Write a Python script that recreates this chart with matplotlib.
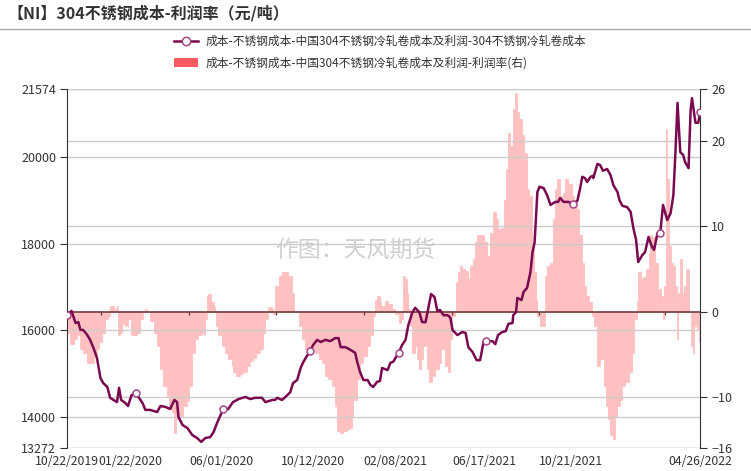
import numpy as np
import pandas as pd
import matplotlib
matplotlib.use("Agg")
import matplotlib.pyplot as plt
import matplotlib.dates as mdates
from matplotlib.lines import Line2D
from matplotlib.patches import Patch

plt.rcParams["font.family"] = ["Noto Sans CJK SC", "DejaVu Sans"]

# start of the series, all x values below are days after this date
start_date = "2019-10-22"

# cost line (left axis, yuan/ton)
cost_day = [0, 6, 12, 16, 19, 23, 29, 33, 38, 43, 48, 52, 58, 62, 67, 72, 75, 78, 84, 88,
            93, 99, 103, 109, 113, 120, 130, 135, 142, 149, 155, 159, 161, 167, 174, 181, 188, 194, 200, 207,
            212, 217, 222, 226, 233, 240, 248, 258, 265, 272, 282, 287, 297, 301, 304, 311, 316, 323, 327, 333,
            338, 342, 348, 352, 356, 362, 367, 374, 381, 388, 393, 396, 403, 410, 417, 420, 424, 429, 435, 439,
            443, 449, 453, 456, 464, 468, 472, 480, 485, 490, 494, 500, 504, 510, 514, 519, 523, 527, 532, 536,
            540, 545, 551, 555, 558, 565, 572, 577, 581, 587, 593, 598, 603, 606, 616, 620, 624, 630, 635, 639,
            645, 646, 650, 652, 658, 661, 666, 671, 674, 677, 679, 681, 684, 690, 695, 700, 707, 711, 714, 719,
            726, 733, 739, 743, 746, 750, 753, 758, 761, 762, 768, 772, 776, 782, 787, 791, 797, 800, 804, 811,
            816, 820, 824, 827, 833, 837, 842, 847, 850, 855, 859, 863, 869, 874, 878, 881, 884, 888, 892, 895,
            900, 903, 905, 910, 914, 917]
cost_val = [16350, 16450, 16170, 16190, 16010, 16010, 15890, 15780, 15590, 15360, 14900, 14780, 14690, 14440, 14390, 14340, 14670, 14390, 14320, 14250,
            14500, 14550, 14460, 14320, 14160, 14160, 14110, 14250, 14230, 14180, 14390, 14340, 14000, 13810, 13740, 13580, 13510, 13420, 13510, 13530,
            13650, 13860, 14040, 14180, 14180, 14340, 14410, 14460, 14410, 14440, 14440, 14340, 14390, 14390, 14440, 14390, 14460, 14570, 14780, 14850,
            15130, 15270, 15430, 15520, 15660, 15780, 15730, 15780, 15750, 15820, 15820, 15610, 15610, 15550, 15480, 15270, 15040, 14850, 14850, 14740,
            14690, 14810, 14830, 15130, 15080, 15250, 15270, 15480, 15660, 15780, 16120, 16420, 16520, 16420, 16190, 16190, 16520, 16840, 16770, 16450,
            16470, 16350, 16350, 16290, 16010, 15890, 15960, 15940, 15610, 15500, 15310, 15310, 15730, 15750, 15750, 15680, 15890, 15960, 15980, 16150,
            16170, 16350, 16420, 16750, 16700, 16890, 16980, 17350, 17810, 18040, 18600, 19200, 19320, 19290, 19130, 18900, 18970, 18970, 19060, 18970,
            18970, 18920, 19000, 19290, 19550, 19520, 19430, 19550, 19570, 19520, 19850, 19820, 19690, 19730, 19590, 19360, 19200, 19010, 18880, 18850,
            18740, 18370, 18090, 17580, 17740, 17810, 18160, 17930, 17860, 18250, 18250, 18900, 18550, 18710, 19130, 20120, 21260, 20120, 20060, 19890,
            19750, 21100, 21370, 20800, 20800, 21050]

# profit rate bars (right axis, %)
rate_day = [0, 4, 9, 14, 18, 23, 28, 33, 38, 43, 46, 50, 55, 59, 62, 67, 72, 74, 76, 79,
            84, 88, 92, 96, 101, 105, 110, 113, 116, 120, 125, 130, 134, 139, 144, 148, 151, 155, 158, 163,
            168, 173, 176, 180, 185, 190, 195, 198, 199, 202, 204, 208, 212, 214, 216, 219, 224, 228, 233, 238,
            240, 245, 250, 255, 260, 265, 269, 274, 279, 284, 286, 291, 296, 298, 301, 306, 311, 315, 320, 325,
            328, 332, 335, 340, 344, 349, 354, 359, 364, 369, 373, 378, 383, 388, 390, 395, 400, 405, 410, 413,
            414, 419, 424, 429, 434, 439, 443, 446, 448, 453, 455, 460, 465, 470, 475, 480, 484, 487, 489, 492,
            494, 496, 499, 503, 506, 509, 512, 516, 521, 524, 528, 533, 538, 542, 547, 551, 554, 558, 561, 563,
            566, 569, 572, 576, 580, 583, 587, 590, 593, 598, 603, 608, 612, 617, 621, 624, 628, 632, 636, 639,
            642, 646, 649, 651, 655, 658, 662, 666, 669, 673, 676, 679, 681, 685, 690, 692, 695, 699, 703, 707,
            710, 714, 718, 721, 725, 727, 731, 734, 738, 742, 745, 749, 752, 756, 760, 763, 767, 772, 777, 780,
            783, 786, 790, 793, 797, 801, 804, 808, 813, 818, 821, 825, 827, 831, 834, 838, 842, 844, 847, 849,
            852, 856, 860, 863, 865, 867, 869, 872, 875, 878, 880, 883, 885, 888, 891, 894, 897, 901, 904, 906,
            908, 912, 915, 917]
rate_val = [-2.5, -3.8, -3.2, -2.7, -4.4, -4.8, -6.0, -6.0, -5.2, -4.4, -3.6, -2.5, -0.9, -0.5, 0.7, 0.3, 0.7, -2.7, -2.5, -1.5,
            -1.7, -0.9, -2.7, -2.8, -2.5, -0.9, -0.1, 0.3, -0.1, -1.1, -2.5, -4.0, -6.7, -8.7, -9.9, -11.4, -11.8, -14.2, -12.6, -12.2,
            -11.0, -10.5, -8.7, -4.8, -3.2, -2.7, -2.5, -2.7, -0.9, 1.8, 2.0, 1.1, 0.5, -0.1, -1.7, -2.8, -4.0, -4.8, -5.6, -6.4,
            -7.1, -7.5, -7.3, -7.1, -6.4, -5.8, -5.4, -4.8, -4.4, -2.5, -0.9, 0.5, 0.3, -0.3, 3.0, 4.2, 4.6, 4.6, 4.2, 2.2,
            0.1, -0.1, -1.7, -3.2, -4.4, -4.8, -4.4, -4.8, -5.6, -6.0, -7.5, -7.9, -8.7, -11.0, -14.0, -14.2, -14.0, -13.8, -13.6, -12.2,
            -10.3, -7.9, -6.0, -5.2, -4.0, -2.7, -0.5, 1.4, 1.8, 1.1, 0.7, 1.2, 0.9, 0.3, -0.3, -1.3, -0.9, 4.2, 3.8, 2.2,
            0.3, -1.7, -4.8, -4.0, -5.6, -6.7, -5.6, -4.0, -6.7, -8.3, -7.5, -6.7, -6.0, -4.4, -6.4, -7.1, -3.2, -0.5, -0.1, 3.4,
            4.6, 5.3, 5.0, 4.8, 3.8, 5.3, 6.1, 8.1, 9.0, 8.9, 8.1, 6.5, 9.2, 11.6, 10.8, 9.6, 9.8, 13.1, 16.7, 20.9,
            19.4, 23.7, 25.6, 23.3, 22.5, 20.6, 18.6, 14.3, 13.5, 8.1, 4.6, 1.4, -0.5, -1.7, -1.7, 4.2, 5.3, 5.7, 10.8, 14.3,
            15.5, 13.5, 13.9, 15.5, 14.3, 14.9, 13.5, 13.1, 12.0, 8.9, 5.7, 3.0, 1.8, 1.1, -0.5, -1.7, -6.4, -5.6, -8.7, -11.0,
            -12.6, -14.5, -14.9, -12.2, -11.0, -10.3, -8.7, -8.3, -7.1, -4.8, -0.9, 1.1, 4.6, 3.8, 4.0, 5.0, 6.9, 8.9, 7.3, 8.7,
            5.7, 2.6, 1.8, -0.9, 3.0, 21.3, 15.5, 7.7, 5.7, 5.3, 3.0, -3.2, 2.2, 6.1, 2.2, 3.0, 5.0, -0.1, -4.0, -4.8,
            -1.7, -2.1, -3.6, -4.0]

# axis labels and ticks
x_tick_labels = ["10/22/2019", "01/22/2020", "06/01/2020", "10/12/2020",
                 "02/08/2021", "06/17/2021", "10/21/2021", "04/26/2022"]
left_ticks = [13272, 14000, 16000, 18000, 20000, 21574]
right_ticks = [-16, -10, 0, 10, 20, 26]
marker_days = [0, 99, 226, 352, 480, 606, 733, 859, 917]
zero_tick_days = [49, 176, 302, 430, 557, 683, 866]

title = "【NI】304不锈钢成本-利润率（元/吨）"
line_label = "成本-不锈钢成本-中国304不锈钢冷轧卷成本及利润-304不锈钢冷轧卷成本"
bar_label = "成本-不锈钢成本-中国304不锈钢冷轧卷成本及利润-利润率(右)"

line_color = "#7a0a50"
marker_edge = "#a0468a"
bar_color = "#ffc0c1"
legend_bar_color = "#ff5a5f"
text_color = "#333333"
grid_color = "#cccccc"
zero_color = "#703c3c"

t0 = pd.Timestamp(start_date)
cost_x = mdates.date2num(t0 + pd.to_timedelta(cost_day, unit="D"))
rate_x = mdates.date2num(t0 + pd.to_timedelta(rate_day, unit="D"))
rate_w = np.append(np.diff(rate_day), 2)
tick_x = mdates.date2num(pd.to_datetime(x_tick_labels, format="%m/%d/%Y"))
zero_tick_x = mdates.date2num(t0 + pd.to_timedelta(zero_tick_days, unit="D"))
mark_idx = list(np.searchsorted(cost_day, marker_days))

fig = plt.figure(figsize=(7.51, 4.71), dpi=100)
ax = fig.add_axes([67.3 / 751, 1 - 448.3 / 471, 633 / 751, 359 / 471])
ax2 = ax.twinx()
ax.set_zorder(ax2.get_zorder() + 1)
ax.patch.set_visible(False)

# -----------------------------
# profit rate bars
# -----------------------------
ax2.bar(rate_x, rate_val, width=rate_w, align="edge", color=bar_color,
        edgecolor=bar_color, linewidth=0.6, zorder=2)
for v in right_ticks:
    if v != 0:
        ax2.axhline(v, color=grid_color, lw=1, zorder=3)
ax2.axhline(0, color=zero_color, lw=1.2, zorder=4)
ax2.vlines(zero_tick_x, -0.45, 0, color=zero_color, lw=1, zorder=4)
ax2.set_ylim(-16, 26)
ax2.set_yticks(right_ticks)

# -----------------------------
# cost line
# -----------------------------
for v in left_ticks:
    ax.axhline(v, color=grid_color, lw=1, zorder=1)
ax.plot(cost_x, cost_val, color=line_color, lw=1.8, marker="o", markevery=mark_idx,
        mfc="white", mec=marker_edge, ms=5, mew=1.1, zorder=4)
ax.set_ylim(13272, 21574)
ax.set_yticks(left_ticks)

ax.set_xlim(cost_x[0], cost_x[-1])
ax.set_xticks(tick_x)
ax.set_xticklabels(x_tick_labels)

for a in (ax, ax2):
    for s in a.spines.values():
        s.set_visible(False)
ax.spines["left"].set_visible(True)
ax.spines["left"].set_color(text_color)
ax2.spines["right"].set_visible(True)
ax2.spines["right"].set_color(text_color)

ax.tick_params(axis="y", direction="out", length=5, color=text_color,
               labelsize=9, labelcolor=text_color, pad=3)
ax2.tick_params(axis="y", direction="out", length=5, color=text_color,
                labelsize=9, labelcolor=text_color, pad=3)
ax.tick_params(axis="x", length=0, labelsize=8.8, labelcolor=text_color, pad=5)

# title, separator, legend, watermark
fig.text(7 / 751, 1 - 13 / 471, title, fontsize=11.5, fontweight="bold",
         color=text_color, va="center", ha="left")
fig.add_artist(Line2D([0, 1], [1 - 28.5 / 471] * 2, color="#aaaaaa", lw=1))

handles = [
    Line2D([], [], color=line_color, lw=1.8, marker="o", mfc="white", mec=marker_edge, ms=6, mew=1.1),
    Patch(facecolor=legend_bar_color, edgecolor="none"),
]
fig.legend(handles, [line_label, bar_label], loc="upper left",
           bbox_to_anchor=(168 / 751, 1 - 29 / 471), frameon=False, fontsize=8.5,
           handlelength=2.0, handletextpad=0.7, labelspacing=0.75, borderpad=0,
           labelcolor=text_color)

fig.text(355 / 751, 1 - 250 / 471, "作图：天风期货", fontsize=16.5, color="#cfcfcf",
         ha="center", va="center")

fig.savefig("out.png", dpi=100)
